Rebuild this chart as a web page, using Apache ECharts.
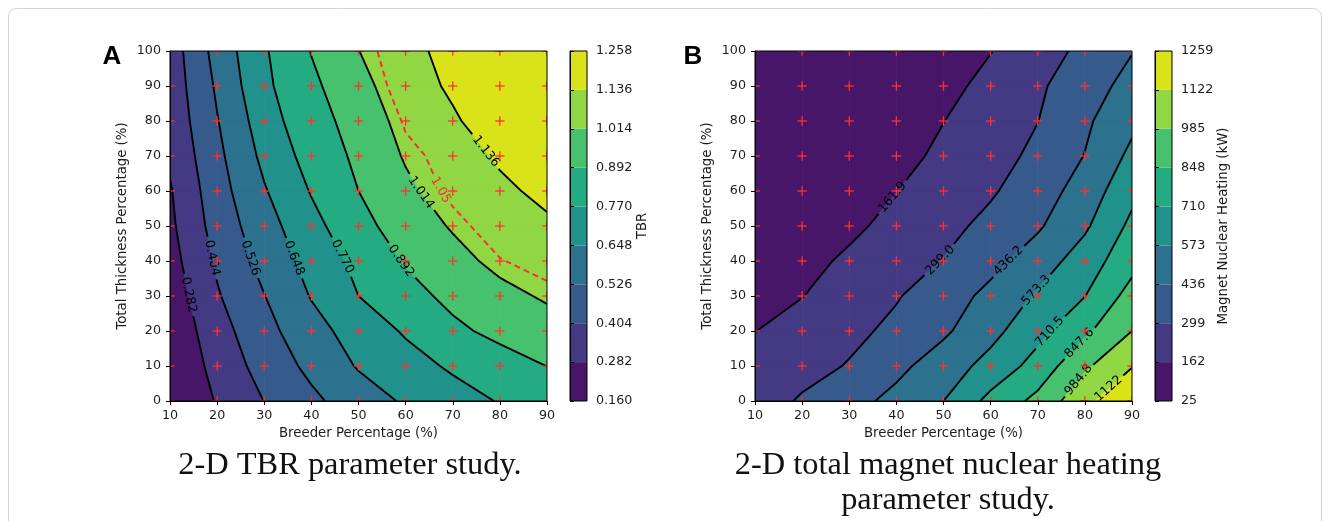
<!DOCTYPE html>
<html>
<head>
<meta charset="utf-8">
<script src="https://cdn.jsdelivr.net/npm/echarts@6/dist/echarts.min.js"></script>
<style>
  html, body { margin: 0; padding: 0; background: #ffffff; }
  #studyChart { width: 1330px; height: 521px; }
</style>
</head>
<body>
<div id="studyChart"></div>
<script>
// parameter grid (red crosses)
const breederPct = [10, 20, 30, 40, 50, 60, 70, 80, 90];
const thicknessPct = [0, 10, 20, 30, 40, 50, 60, 70, 80, 90, 100];

// TBR, one row per thickness (0 -> 100), one column per breeder %
const tbrRows = [
  [0.160, 0.291, 0.406, 0.501, 0.587, 0.663, 0.721, 0.777, 0.824],
  [0.172, 0.323, 0.452, 0.555, 0.658, 0.724, 0.787, 0.842, 0.893],
  [0.186, 0.356, 0.487, 0.604, 0.700, 0.783, 0.868, 0.922, 0.963],
  [0.208, 0.393, 0.523, 0.655, 0.770, 0.851, 0.921, 0.979, 1.029],
  [0.237, 0.421, 0.566, 0.691, 0.802, 0.902, 0.974, 1.046, 1.078],
  [0.258, 0.453, 0.599, 0.732, 0.855, 0.947, 1.025, 1.091, 1.120],
  [0.272, 0.476, 0.638, 0.778, 0.892, 0.990, 1.070, 1.116, 1.160],
  [0.300, 0.497, 0.677, 0.818, 0.915, 1.025, 1.085, 1.150, 1.190],
  [0.320, 0.520, 0.711, 0.855, 0.928, 1.062, 1.127, 1.175, 1.215],
  [0.332, 0.543, 0.745, 0.870, 0.966, 1.103, 1.147, 1.195, 1.240],
  [0.340, 0.570, 0.757, 0.896, 1.012, 1.107, 1.167, 1.215, 1.258]
];
const tbrLevels = [0.160, 0.282, 0.404, 0.526, 0.648, 0.770, 0.892, 1.014, 1.136, 1.258];
const tbrTickLabels = ['0.160', '0.282', '0.404', '0.526', '0.648', '0.770', '0.892', '1.014', '1.136', '1.258'];
const tbrLineLevels = [0.282, 0.404, 0.526, 0.648, 0.770, 0.892, 1.014, 1.136];
const tbrLineLabels = ['0.282', '0.404', '0.526', '0.648', '0.770', '0.892', '1.014', '1.136'];
const tbrTarget = [1.05];
const tbrTargetLabel = ['1.05'];

// total magnet nuclear heating (kW), same layout
const heatRows = [
  [230, 315, 390, 474, 573, 750, 884, 1086, 1259],
  [195, 250, 308, 402, 504, 619, 762, 962, 1115],
  [160, 212, 265, 330, 414, 532, 670, 821, 985],
  [130, 159, 224, 289, 373, 471, 591, 708, 900],
  [105, 124, 183, 243, 304, 396, 503, 639, 802],
  [85, 110, 136, 199, 261, 333, 419, 552, 742],
  [68, 82, 98, 160, 222, 284, 371, 494, 674],
  [55, 66, 85, 123, 187, 251, 327, 440, 605],
  [45, 54, 65, 90, 160, 229, 297, 413, 543],
  [35, 42, 55, 80, 122, 201, 279, 375, 482],
  [24.75, 35, 48, 70, 100, 158, 241, 330, 431]
];
const heatLevels = [24.75, 161.9, 299.0, 436.2, 573.3, 710.5, 847.6, 984.8, 1122.0, 1259.1];
const heatTickLabels = ['25', '162', '299', '436', '573', '710', '848', '985', '1122', '1259'];
const heatLineLevels = [161.9, 299.0, 436.2, 573.3, 710.5, 847.6, 984.8, 1122.0];
const heatLineLabels = ['161.9', '299.0', '436.2', '573.3', '710.5', '847.6', '984.8', '1122'];

// viridis sampled at the band middles
const bandColors = ['#481668', '#443983', '#375a8c', '#2c718e', '#21918c', '#25ab82', '#48c16e', '#90d743', '#dae319'];

// where matplotlib put the inline labels (data coords, snapped onto the line)
const tbrLabelAt = [[14.3, 30.3], [19.6, 40.9], [27, 40.8], [36.2, 40.8], [46.2, 40.8], [58.6, 39.8], [63.5, 59.8], [77, 71.2]];
const tbrTargetAt = [[68.5, 60.8]];
const heatLabelAt = [[39.4, 57.9], [50, 39.3], [63.8, 39.8], [69.5, 31.7], [72.6, 19.8], [79.7, 15.5], [78.3, 6.5], [85, 3.6]];

const FONT = 'DejaVu Sans';
const INK = '#1c1c1c';
const LABEL_FONT = '12.6px "DejaVu Sans"';

const measureCtx = document.createElement('canvas').getContext('2d');
function textWidth(t) {
  measureCtx.font = LABEL_FONT;
  return measureCtx.measureText(t).width;
}

// keep the part of a polygon on one side of a level (values linear along edges)
function clipPoly(pts, level, keepAbove) {
  let out = [];
  for (let k = 0; k < pts.length; k++) {
    let a = pts[k], b = pts[(k + 1) % pts.length];
    let ina = keepAbove ? a[2] >= level : a[2] <= level;
    let inb = keepAbove ? b[2] >= level : b[2] <= level;
    if (ina) out.push(a);
    if (ina !== inb) {
      let t = (level - a[2]) / (b[2] - a[2]);
      out.push([a[0] + t * (b[0] - a[0]), a[1] + t * (b[1] - a[1]), level]);
    }
  }
  return out;
}

function renderCells(rows, levels) {
  return function (params, api) {
    let i = breederPct.indexOf(api.value(0));
    let j = thicknessPct.indexOf(api.value(1));
    let x0 = breederPct[i], x1 = breederPct[i + 1];
    let y0 = thicknessPct[j], y1 = thicknessPct[j + 1];
    let quad = [[x0, y0, rows[j][i]], [x1, y0, rows[j][i + 1]], [x1, y1, rows[j + 1][i + 1]], [x0, y1, rows[j + 1][i]]];
    let children = [];
    for (let b = 0; b < levels.length - 1; b++) {
      let lo = b === 0 ? -Infinity : levels[b];
      let hi = b === levels.length - 2 ? Infinity : levels[b + 1];
      let poly = clipPoly(clipPoly(quad, lo, true), hi, false);
      if (poly.length < 3) continue;
      children.push({
        type: 'polygon',
        shape: { points: poly.map(p => api.coord([p[0], p[1]])) },
        style: { fill: bandColors[b], stroke: bandColors[b], lineWidth: 0.8 }
      });
    }
    return { type: 'group', children: children };
  };
}

// marching squares, segments chained into paths
function contourChains(rows, level) {
  let nx = breederPct.length, ny = thicknessPct.length;
  let segs = [];
  function cross(ai, aj, bi, bj, key) {
    let va = rows[aj][ai], vb = rows[bj][bi];
    if ((va >= level) === (vb >= level)) return null;
    let t = (level - va) / (vb - va);
    return {
      key: key,
      x: breederPct[ai] + t * (breederPct[bi] - breederPct[ai]),
      y: thicknessPct[aj] + t * (thicknessPct[bj] - thicknessPct[aj])
    };
  }
  for (let j = 0; j < ny - 1; j++) {
    for (let i = 0; i < nx - 1; i++) {
      let b = cross(i, j, i + 1, j, 'h' + i + '_' + j);
      let r = cross(i + 1, j, i + 1, j + 1, 'v' + (i + 1) + '_' + j);
      let t = cross(i, j + 1, i + 1, j + 1, 'h' + i + '_' + (j + 1));
      let l = cross(i, j, i, j + 1, 'v' + i + '_' + j);
      let pts = [b, r, t, l].filter(Boolean);
      if (pts.length === 2) {
        segs.push(pts);
      } else if (pts.length === 4) {
        let centre = (rows[j][i] + rows[j][i + 1] + rows[j + 1][i] + rows[j + 1][i + 1]) / 4;
        if ((centre >= level) === (rows[j][i] >= level)) {
          segs.push([b, r]); segs.push([t, l]);
        } else {
          segs.push([b, l]); segs.push([r, t]);
        }
      }
    }
  }
  let nbr = {}, pt = {};
  segs.forEach(function (s) {
    pt[s[0].key] = s[0]; pt[s[1].key] = s[1];
    (nbr[s[0].key] = nbr[s[0].key] || []).push(s[1].key);
    (nbr[s[1].key] = nbr[s[1].key] || []).push(s[0].key);
  });
  let used = {}, chains = [];
  let keys = Object.keys(nbr).sort((a, b) => nbr[a].length - nbr[b].length);
  keys.forEach(function (k) {
    if (used[k]) return;
    let chain = [pt[k]];
    used[k] = true;
    let cur = k;
    while (true) {
      let next = nbr[cur].filter(n => !used[n])[0];
      if (!next) break;
      used[next] = true;
      chain.push(pt[next]);
      cur = next;
    }
    chains.push(chain);
  });
  return chains;
}

function resample(px) {
  let out = [px[0]];
  for (let k = 1; k < px.length; k++) {
    let a = px[k - 1], b = px[k];
    let n = Math.max(1, Math.ceil(Math.hypot(b[0] - a[0], b[1] - a[1])));
    for (let s = 1; s <= n; s++) {
      out.push([a[0] + (b[0] - a[0]) * s / n, a[1] + (b[1] - a[1]) * s / n]);
    }
  }
  return out;
}

function renderLines(rows, levels, texts, anchors, color, dash) {
  return function (params, api) {
    let k = api.value(0);
    let chains = contourChains(rows, levels[k]);
    let dense = chains.map(c => resample(c.map(p => api.coord([p.x, p.y]))));
    let children = [];
    let anchor = api.coord(anchors[k]);
    let best = null;
    dense.forEach(function (pts, ci) {
      pts.forEach(function (p, pi) {
        let d = Math.hypot(p[0] - anchor[0], p[1] - anchor[1]);
        if (!best || d < best.d) best = { d: d, ci: ci, pi: pi };
      });
    });
    let box = null;
    if (best) {
      let pts = dense[best.ci];
      let a = pts[Math.max(0, best.pi - 10)], b = pts[Math.min(pts.length - 1, best.pi + 10)];
      let ang = Math.atan2(-(b[1] - a[1]), b[0] - a[0]);
      if (ang > Math.PI / 2) ang -= Math.PI;
      if (ang < -Math.PI / 2) ang += Math.PI;
      let c = pts[best.pi];
      box = { cx: c[0], cy: c[1], ang: ang, hw: textWidth(texts[k]) / 2 + 3, hh: 8 };
      children.push({
        type: 'text',
        x: c[0], y: c[1], rotation: ang, z2: 5,
        style: {
          text: texts[k], font: LABEL_FONT, fill: color,
          align: 'center', verticalAlign: 'middle', textAlign: 'center', textVerticalAlign: 'middle'
        }
      });
    }
    function inBox(p) {
      if (!box) return false;
      let dx = p[0] - box.cx, dy = p[1] - box.cy;
      let u = dx * Math.cos(box.ang) - dy * Math.sin(box.ang);
      let v = dx * Math.sin(box.ang) + dy * Math.cos(box.ang);
      return Math.abs(u) < box.hw && Math.abs(v) < box.hh;
    }
    dense.forEach(function (pts) {
      let run = [];
      let flush = function () {
        if (run.length > 1) {
          children.push({
            type: 'polyline',
            shape: { points: run },
            style: { stroke: color, lineWidth: 1.9, fill: 'none', lineDash: dash }
          });
        }
        run = [];
      };
      pts.forEach(function (p) {
        if (inBox(p)) flush(); else run.push(p);
      });
      flush();
    });
    return { type: 'group', children: children };
  };
}

function renderCross(params, api) {
  let c = api.coord([api.value(0), api.value(1)]);
  let s = 4.7;
  let st = { stroke: '#ff3030', lineWidth: 1.3 };
  return {
    type: 'group',
    children: [
      { type: 'line', shape: { x1: c[0] - s, y1: c[1], x2: c[0] + s, y2: c[1] }, style: st },
      { type: 'line', shape: { x1: c[0], y1: c[1] - s, x2: c[0], y2: c[1] + s }, style: st }
    ]
  };
}

function renderBand(params, api) {
  let b = api.value(1);
  let p0 = api.coord([0, b]), p1 = api.coord([1, b + 1]);
  return {
    type: 'rect',
    shape: { x: p0[0], y: p1[1], width: p1[0] - p0[0], height: p0[1] - p1[1] },
    style: { fill: bandColors[b] }
  };
}

let cellData = [];
for (let j = 0; j < thicknessPct.length - 1; j++) {
  for (let i = 0; i < breederPct.length - 1; i++) cellData.push([breederPct[i], thicknessPct[j]]);
}
let crossData = [];
breederPct.forEach(x => thicknessPct.forEach(y => crossData.push([x, y])));
let bandData = bandColors.map((c, b) => [0, b]);

function plotGrid(left) {
  return { left: left, top: 51, width: 377, height: 350, show: true, backgroundColor: 'transparent', borderColor: '#000', borderWidth: 1, z: 10 };
}
function barGrid(left) {
  return { left: left, top: 51, width: 17, height: 350, show: true, backgroundColor: 'transparent', borderColor: '#000', borderWidth: 1, z: 10 };
}
const tickStyle = { show: true, length: 4, lineStyle: { color: '#000', width: 1 } };
const labelStyle = { fontFamily: FONT, fontSize: 12.7, color: INK };
const nameStyle = { fontFamily: FONT, fontSize: 13.3, color: INK };

function plotX(gi) {
  return {
    gridIndex: gi, type: 'value', min: 10, max: 90, interval: 10, z: 10,
    name: 'Breeder Percentage (%)', nameLocation: 'middle', nameGap: 25,
    nameTextStyle: nameStyle,
    axisLine: { lineStyle: { color: '#000', width: 1 } },
    axisTick: tickStyle,
    axisLabel: Object.assign({ margin: 8 }, labelStyle),
    splitLine: { show: false }
  };
}
function plotY(gi) {
  return {
    gridIndex: gi, type: 'value', min: 0, max: 100, interval: 10, z: 10,
    name: 'Total Thickness Percentage (%)', nameLocation: 'middle', nameGap: 41,
    nameTextStyle: nameStyle,
    axisLine: { show: true, lineStyle: { color: '#000', width: 1 } },
    axisTick: tickStyle,
    axisLabel: Object.assign({ margin: 9 }, labelStyle),
    splitLine: { show: false }
  };
}
function barX(gi) {
  return { gridIndex: gi, type: 'value', min: 0, max: 1, show: false };
}
function barY(gi, ticks, title, gap) {
  return {
    gridIndex: gi, type: 'value', position: 'right', min: 0, max: 9, interval: 1, z: 10,
    name: title, nameLocation: 'middle', nameRotate: 90, nameGap: gap,
    nameTextStyle: nameStyle,
    axisLine: { show: true, lineStyle: { color: '#000', width: 1 } },
    axisTick: tickStyle,
    axisLabel: Object.assign({ margin: 9, formatter: v => ticks[v] }, labelStyle),
    splitLine: { show: false }
  };
}

const captionFont = '32.4px "Liberation Serif"';
function caption(x, y, text) {
  return {
    type: 'text', x: x, y: y,
    style: { text: text, font: captionFont, fill: '#111',
      align: 'center', verticalAlign: 'middle', textAlign: 'center', textVerticalAlign: 'middle' }
  };
}
function panelTag(x, text) {
  return {
    type: 'text', x: x, y: 57,
    style: { text: text, font: 'bold 26px "Liberation Sans"', fill: '#000',
      align: 'center', verticalAlign: 'middle', textAlign: 'center', textVerticalAlign: 'middle' }
  };
}

const option = {
  animation: false,
  backgroundColor: '#ffffff',
  grid: [plotGrid(170), barGrid(570), plotGrid(755), barGrid(1155)],
  xAxis: [plotX(0), barX(1), plotX(2), barX(3)],
  yAxis: [plotY(0), barY(1, tbrTickLabels, 'TBR', 49), plotY(2), barY(3, heatTickLabels, 'Magnet Nuclear Heating (kW)', 45)],
  series: [
    { type: 'custom', name: 'TBR fill', xAxisIndex: 0, yAxisIndex: 0, clip: true, z: 2, silent: true,
      encode: { x: 0, y: 1 }, data: cellData, renderItem: renderCells(tbrRows, tbrLevels) },
    { type: 'custom', name: 'TBR lines', xAxisIndex: 0, yAxisIndex: 0, clip: true, z: 3, silent: true,
      data: tbrLineLevels.map((v, k) => [k]),
      renderItem: renderLines(tbrRows, tbrLineLevels, tbrLineLabels, tbrLabelAt, '#000', null) },
    { type: 'custom', name: 'TBR 1.05', xAxisIndex: 0, yAxisIndex: 0, clip: true, z: 3, silent: true,
      data: [[0]],
      renderItem: renderLines(tbrRows, tbrTarget, tbrTargetLabel, tbrTargetAt, '#ff2b2b', [6, 4]) },
    { type: 'custom', name: 'TBR points', xAxisIndex: 0, yAxisIndex: 0, clip: true, z: 4, silent: true,
      encode: { x: 0, y: 1 }, data: crossData, renderItem: renderCross },
    { type: 'custom', name: 'TBR bar', xAxisIndex: 1, yAxisIndex: 1, z: 2, silent: true,
      encode: { x: 0, y: 1 }, data: bandData, renderItem: renderBand },

    { type: 'custom', name: 'Heat fill', xAxisIndex: 2, yAxisIndex: 2, clip: true, z: 2, silent: true,
      encode: { x: 0, y: 1 }, data: cellData, renderItem: renderCells(heatRows, heatLevels) },
    { type: 'custom', name: 'Heat lines', xAxisIndex: 2, yAxisIndex: 2, clip: true, z: 3, silent: true,
      data: heatLineLevels.map((v, k) => [k]),
      renderItem: renderLines(heatRows, heatLineLevels, heatLineLabels, heatLabelAt, '#000', null) },
    { type: 'custom', name: 'Heat points', xAxisIndex: 2, yAxisIndex: 2, clip: true, z: 4, silent: true,
      encode: { x: 0, y: 1 }, data: crossData, renderItem: renderCross },
    { type: 'custom', name: 'Heat bar', xAxisIndex: 3, yAxisIndex: 3, z: 2, silent: true,
      encode: { x: 0, y: 1 }, data: bandData, renderItem: renderBand }
  ],
  graphic: [
    { type: 'rect', silent: true, z: -10, shape: { x: 8.5, y: 8.5, width: 1313, height: 640, r: 8 },
      style: { fill: 'none', stroke: '#d4d4d4', lineWidth: 1 } },
    panelTag(112, 'A'),
    panelTag(693, 'B'),
    caption(350, 465, '2-D TBR parameter study.'),
    caption(948, 465, '2-D total magnet nuclear heating'),
    caption(948, 500, 'parameter study.')
  ]
};

const myChart = echarts.init(document.getElementById('studyChart'));
myChart.setOption(option);
</script>
</body>
</html>
